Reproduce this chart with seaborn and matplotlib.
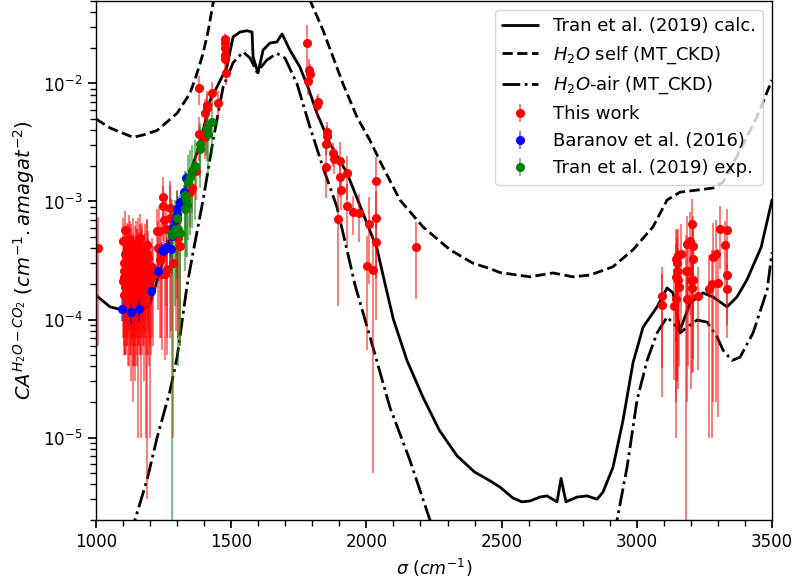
import numpy as np
import matplotlib
matplotlib.use("Agg")
import matplotlib.pyplot as plt
import seaborn as sns
from matplotlib.ticker import MultipleLocator

# Tran et al. (2019) calculated CA
calc_x = [1000, 1052, 1100, 1140, 1170, 1200, 1230, 1263, 1300, 1348, 1385, 1422, 1447, 1484,
          1507, 1533, 1558, 1577, 1581, 1599, 1618, 1643, 1669, 1688, 1717, 1754, 1784, 1817,
          1865, 1928, 1987, 2039, 2069, 2100, 2150, 2209, 2270, 2335, 2400, 2457, 2494, 2542,
          2575, 2605, 2642, 2668, 2705, 2720, 2738, 2779, 2816, 2853, 2875, 2912, 2949, 2986,
          3023, 3075, 3112, 3134, 3160, 3197, 3245, 3282, 3334, 3370, 3407, 3460, 3500]
calc_y = [1.6e-4, 1.28e-4, 1.2e-4, 1.16e-4, 1.18e-4, 1.35e-4, 2.3e-4, 4.0e-4, 7.5e-4, 1.75e-3,
          3.1e-3, 7.2e-3, 9.3e-3, 1.38e-2, 2.48e-2, 2.73e-2, 2.8e-2, 2.73e-2, 1.68e-2, 1.23e-2,
          1.92e-2, 2.2e-2, 2.25e-2, 2.63e-2, 1.92e-2, 1.38e-2, 9.3e-3, 5.6e-3, 3.1e-3, 1.75e-3,
          8e-4, 4.0e-4, 2.0e-4, 1.0e-4, 4.5e-5, 2.2e-5, 1.15e-5, 7.0e-6, 5.1e-6, 4.3e-6, 3.8e-6,
          3.07e-6, 2.85e-6, 2.9e-6, 3.13e-6, 3.2e-6, 2.85e-6, 4.5e-6, 2.85e-6, 3.13e-6, 3.2e-6,
          3.0e-6, 3.45e-6, 5.6e-6, 1.4e-5, 4.3e-5, 8.6e-5, 1.28e-4, 1.85e-4, 1.68e-4, 8.1e-5,
          1.38e-4, 1.68e-4, 1.55e-4, 1.28e-4, 1.55e-4, 2.16e-4, 4.1e-4, 1.03e-3]

# H2O self continuum (MT_CKD)
self_x = [1000, 1052, 1137, 1174, 1226, 1300, 1348, 1370, 1396, 1415, 1433, 1480, 1600, 1720,
          1791, 1839, 1913, 1965, 2013, 2061, 2124, 2209, 2309, 2394, 2457, 2494, 2605, 2690,
          2764, 2827, 2912, 2986, 3060, 3112, 3160, 3223, 3282, 3319, 3382, 3444, 3500]
self_y = [5.0e-3, 4.2e-3, 3.5e-3, 3.66e-3, 4.0e-3, 5.6e-3, 8.3e-3, 1.15e-2, 1.8e-2, 2.8e-2,
          4.8e-2, 8e-2, 1.2e-1, 8e-2, 5.1e-2, 2.85e-2, 1.0e-2, 5.2e-3, 3.3e-3, 1.96e-3, 1.03e-3,
          6.1e-4, 3.9e-4, 3.0e-4, 2.7e-4, 2.5e-4, 2.3e-4, 2.48e-4, 2.3e-4, 2.38e-4, 2.8e-4,
          3.9e-4, 6.1e-4, 1.03e-3, 1.2e-3, 1.25e-3, 1.3e-3, 1.46e-3, 2.7e-3, 5.2e-3, 1.07e-2]

# H2O-air continuum (MT_CKD)
air_x = [1120, 1144, 1189, 1226, 1274, 1300, 1337, 1359, 1396, 1433, 1470, 1507, 1544, 1570,
         1595, 1632, 1669, 1699, 1743, 1791, 1839, 1891, 1928, 1958, 2024, 2087, 2161, 2235,
         2260, 2900, 2927, 2964, 3001, 3038, 3075, 3112, 3149, 3160, 3186, 3223, 3260, 3297,
         3319, 3352, 3382, 3430, 3482, 3500]
air_y = [1.5e-6, 2e-6, 4.4e-6, 1.0e-5, 2.5e-5, 4.8e-5, 1.96e-4, 3.7e-4, 1.03e-3, 3.3e-3, 9.3e-3,
         1.5e-2, 1.85e-2, 1.64e-2, 1.25e-2, 1.58e-2, 1.8e-2, 1.64e-2, 1.0e-2, 4.3e-3, 1.96e-3,
         9e-4, 3.9e-4, 1.96e-4, 5.85e-5, 1.8e-5, 6.4e-6, 2e-6, 1.5e-6, 1.5e-6, 2e-6, 5.6e-6,
         2.08e-5, 4.5e-5, 7.7e-5, 1.05e-4, 8.6e-5, 7.7e-5, 8.6e-5, 9.9e-5, 9.5e-5, 7.1e-5,
         5.5e-5, 4.5e-5, 4.8e-5, 7.7e-5, 1.78e-4, 3.7e-4]

# This work
work_x = [1009,
          1100, 1102, 1104, 1105, 1107, 1108, 1110, 1112, 1113, 1115, 1117, 1118, 1120, 1122,
          1124, 1125, 1127, 1129, 1130, 1132, 1134, 1136, 1137, 1139, 1141, 1143, 1145, 1146,
          1148, 1150, 1152, 1154, 1156, 1158, 1160, 1162, 1164, 1166, 1168, 1170, 1172, 1175,
          1177, 1180, 1183, 1186, 1189, 1192, 1195, 1198, 1201, 1204, 1207, 1210,
          1101, 1103, 1106, 1109, 1111, 1114, 1116, 1119, 1121, 1123, 1126, 1128, 1131, 1133,
          1135, 1138, 1140, 1142, 1144, 1147, 1149, 1151, 1153, 1155, 1157, 1159, 1161, 1163,
          1165, 1167, 1169, 1171, 1174, 1178, 1182, 1185, 1188, 1191, 1194, 1197,
          1224, 1230, 1234, 1237, 1240, 1243, 1246, 1247, 1251, 1255, 1259, 1261, 1264, 1274,
          1275, 1277, 1284, 1296, 1301, 1304, 1311, 1348, 1354, 1370, 1381, 1381, 1403, 1403,
          1407, 1409, 1409, 1428, 1450, 1477, 1478, 1477, 1476, 1477, 1481,
          1779, 1789, 1790, 1785, 1816, 1822, 1853, 1855, 1851, 1851, 1878, 1880, 1902, 1902,
          1905, 1896, 1930, 1930, 1952, 1974, 2011, 2001, 2026, 2036, 2036, 2036, 2183,
          3094, 3095, 3139, 3145, 3147, 3146, 3150, 3153, 3153, 3157, 3146, 3162, 3184, 3187,
          3182, 3197, 3203, 3206, 3209, 3201, 3208, 3203, 3190, 3228, 3268, 3277, 3283, 3293,
          3299, 3308, 3326, 3335, 3335, 3335]
work_y = [4.0e-4,
          2.1e-4, 3.0e-4, 1.6e-4, 2.6e-4, 5.7e-4, 2.2e-4, 3.4e-4, 1.8e-4, 2.9e-4, 2.4e-4,
          3.8e-4, 1.5e-4, 2.7e-4, 3.2e-4, 2.0e-4, 4.1e-4, 2.5e-4, 1.9e-4, 3.5e-4, 2.3e-4,
          2.8e-4, 1.7e-4, 3.1e-4, 2.6e-4, 2.0e-4, 3.6e-4, 2.4e-4, 1.8e-4, 2.9e-4, 3.3e-4,
          2.2e-4, 2.7e-4, 1.6e-4, 3.0e-4, 2.5e-4, 3.8e-4, 2.1e-4, 2.8e-4, 1.9e-4, 3.4e-4,
          2.4e-4, 2.9e-4, 2.0e-4, 3.1e-4, 2.6e-4, 1.8e-4, 3.5e-4, 2.3e-4, 2.7e-4, 1.9e-4,
          2.5e-4, 2.2e-4, 2.8e-4, 2.4e-4,
          4.6e-4, 2.3e-4, 3.6e-4, 1.9e-4, 2.8e-4, 4.0e-4, 2.2e-4, 3.3e-4, 1.7e-4, 4.8e-4,
          2.9e-4, 2.1e-4, 3.9e-4, 2.6e-4, 1.8e-4, 4.4e-4, 3.0e-4, 2.3e-4, 1.6e-4, 4.2e-4,
          2.7e-4, 3.5e-4, 1.9e-4, 4.5e-4, 2.4e-4, 3.2e-4, 2.0e-4, 4.9e-4, 2.6e-4, 3.7e-4,
          2.2e-4, 4.0e-4, 3.0e-4, 2.5e-4, 3.9e-4, 2.1e-4, 4.3e-4, 2.8e-4, 3.3e-4, 2.0e-4,
          5.6e-4, 4.0e-4, 5.6e-4, 3.2e-4, 3.6e-4, 2.45e-4, 1.1e-3, 9.1e-4, 7.0e-4, 2.45e-4,
          5.8e-4, 2.7e-4, 4.0e-4, 8.8e-4, 7.2e-4, 5.8e-4, 3.0e-4, 5.4e-4, 7.0e-4, 4.9e-4,
          4.2e-4, 1.21e-3, 1.3e-3, 1.82e-3, 3.7e-3, 9.1e-3, 3.5e-3, 5.6e-3, 3.8e-3, 6.6e-3,
          6.2e-3, 8.3e-3, 6.8e-3, 2.4e-2, 2.2e-2, 1.98e-2, 1.75e-2, 1.6e-2, 1.22e-2,
          2.2e-2, 1.3e-2, 1.2e-2, 1.05e-2, 6.6e-3, 7.0e-3, 3.9e-3, 3.6e-3, 3.07e-3, 1.97e-3,
          2.56e-3, 2.3e-3, 2.2e-3, 1.6e-3, 1.24e-3, 7.1e-4, 1.73e-3, 9.2e-4, 8.2e-4, 8.0e-4,
          6.5e-4, 2.85e-4, 2.65e-4, 1.5e-3, 7.2e-4, 4.5e-4, 4.1e-4,
          1.59e-4, 1.32e-4, 1.31e-4, 3.26e-4, 2.6e-4, 2.3e-4, 3.0e-4, 3.5e-4, 2.16e-4, 1.9e-4,
          1.5e-4, 3.6e-4, 4.35e-4, 1.5e-4, 2.6e-4, 4.6e-4, 6.4e-4, 4.2e-4, 3.26e-4, 2.16e-4,
          2.16e-4, 1.85e-4, 2.6e-4, 1.57e-4, 1.8e-4, 2.0e-4, 3.4e-4, 3.6e-4, 2.05e-4, 5.9e-4,
          4.3e-4, 5.7e-4, 2.4e-4, 1.8e-4]
work_err = [3.4e-4,
            1.4e-4, 2.1e-4, 1.1e-4, 1.9e-4, 2.6e-4, 1.7e-4, 2.5e-4, 1.3e-4, 2.2e-4, 1.8e-4,
            2.7e-4, 1.1e-4, 2.0e-4, 2.4e-4, 1.5e-4, 2.8e-4, 1.9e-4, 1.6e-4, 2.5e-4, 1.7e-4,
            2.1e-4, 1.5e-4, 2.3e-4, 2.0e-4, 1.6e-4, 2.6e-4, 1.8e-4, 1.4e-4, 2.2e-4, 2.5e-4,
            1.7e-4, 2.0e-4, 1.5e-4, 2.2e-4, 1.9e-4, 2.7e-4, 1.6e-4, 2.1e-4, 1.8e-4, 2.4e-4,
            1.8e-4, 2.2e-4, 1.7e-4, 2.3e-4, 1.9e-4, 1.7e-4, 3.47e-4, 1.8e-4, 2.0e-4, 1.8e-4,
            1.9e-4, 1.7e-4, 2.1e-4, 1.8e-4,
            2.6e-4, 1.7e-4, 2.4e-4, 1.4e-4, 2.0e-4, 2.6e-4, 1.6e-4, 2.3e-4, 1.3e-4, 2.9e-4,
            2.1e-4, 1.6e-4, 2.6e-4, 1.9e-4, 1.4e-4, 2.8e-4, 2.1e-4, 1.7e-4, 1.3e-4, 2.7e-4,
            2.0e-4, 2.4e-4, 1.5e-4, 2.8e-4, 1.8e-4, 2.3e-4, 1.5e-4, 3.0e-4, 1.9e-4, 2.5e-4,
            1.7e-4, 2.6e-4, 2.2e-4, 1.9e-4, 2.6e-4, 1.6e-4, 2.8e-4, 2.0e-4, 2.3e-4, 1.6e-4,
            3.0e-4, 2.8e-4, 3.5e-4, 2.5e-4, 2.9e-4, 1.9e-4, 5.0e-4, 4.5e-4, 4.0e-4, 2.0e-4,
            4.5e-4, 2.2e-4, 3.3e-4, 6.0e-4, 6.5e-4, 5.0e-4, 2.9e-4, 4.6e-4, 5.5e-4, 4.2e-4,
            3.6e-4, 6.0e-4, 5.0e-4, 8.0e-4, 1.5e-3, 2.5e-3, 1.2e-3, 1.8e-3, 1.3e-3, 2.0e-3,
            2.0e-3, 2.0e-3, 1.8e-3, 3.0e-3, 3.0e-3, 3.0e-3, 3.0e-3, 2.5e-3, 2.5e-3,
            9.0e-3, 3.0e-3, 2.5e-3, 2.5e-3, 1.2e-3, 1.2e-3, 8.0e-4, 8.0e-4, 6.0e-4, 9.0e-4,
            6.0e-4, 6.0e-4, 1.0e-3, 5.0e-4, 4.0e-4, 5.8e-4, 7.0e-4, 5.0e-4, 3.0e-4, 3.5e-4,
            4.5e-4, 2.3e-4, 2.6e-4, 9.0e-4, 5.0e-4, 3.5e-4, 2.6e-4,
            1.2e-4, 1.1e-4, 1.0e-4, 2.6e-4, 2.3e-4, 2.1e-4, 2.7e-4, 2.4e-4, 1.9e-4, 1.5e-4,
            1.4e-4, 2.8e-4, 3.2e-4, 1.3e-4, 2.595e-4, 3.5e-4, 4.0e-4, 3.3e-4, 2.8e-4, 1.9e-4,
            1.8e-4, 1.5e-4, 2.2e-4, 1.2e-4, 1.7e-4, 1.9e-4, 3.2e-4, 3.4e-4, 1.9e-4, 3.2e-4,
            2.5e-4, 3.0e-4, 1.5e-4, 1.1e-4]

# Baranov et al. (2016)
bar_x = [1095, 1128, 1159, 1202, 1230, 1243, 1249, 1263, 1277, 1280, 1283, 1292, 1298, 1301,
         1311, 1327, 1331]
bar_y = [1.23e-4, 1.15e-4, 1.23e-4, 1.75e-4, 2.58e-4, 3.9e-4, 3.8e-4, 4.1e-4, 3.95e-4, 5.1e-4,
         6.0e-4, 7.0e-4, 7.8e-4, 8.6e-4, 9.9e-4, 1.2e-3, 1.57e-3]
bar_err = [2.5e-5, 2.4e-5, 2.5e-5, 3.0e-5, 4.0e-5, 6.0e-5, 6.0e-5, 6.0e-5, 6.0e-5, 8.0e-5,
           9.0e-5, 1.0e-4, 1.1e-4, 1.2e-4, 1.4e-4, 1.7e-4, 2.2e-4]

# Tran et al. (2019) experimental
exp_x = [1280, 1281, 1292, 1301, 1304, 1311, 1329, 1329, 1331, 1335, 1341, 1348, 1354, 1366,
         1385, 1386, 1409, 1415, 1428]
exp_y = [5.2e-4, 5.4e-4, 5.8e-4, 7.2e-4, 5.8e-4, 5.4e-4, 1.13e-3, 8.6e-4, 1.04e-3, 9.4e-4,
         1.47e-3, 1.62e-3, 1.8e-3, 2.0e-3, 3.1e-3, 2.8e-3, 4.2e-3, 3.7e-3, 4.7e-3]
exp_err = [5.19e-4, 3.0e-4, 4.5e-4, 5.0e-4, 5.4e-4, 4.8e-4, 7.0e-4, 6.0e-4, 7.0e-4, 6.0e-4,
           1.0e-3, 1.1e-3, 1.2e-3, 1.3e-3, 1.5e-3, 1.5e-3, 2.0e-3, 2.0e-3, 2.2e-3]

sns.set_theme(style="ticks", rc={"axes.edgecolor": "black", "xtick.color": "black",
                                 "ytick.color": "black", "axes.labelcolor": "black",
                                 "text.color": "black", "axes.linewidth": 1.0})
plt.rcParams['font.family'] = ['DejaVu Sans']

fig = plt.figure(figsize=(7.97, 5.86), dpi=100)
ax = fig.add_axes([96 / 797, 66 / 586, 676 / 797, 519 / 586])

sns.lineplot(x=calc_x, y=calc_y, color='black', lw=2, label='Tran et al. (2019) calc.', ax=ax)
sns.lineplot(x=self_x, y=self_y, color='black', lw=2, linestyle='--',
             label=r'$H_2O$ self (MT_CKD)', ax=ax)
sns.lineplot(x=air_x, y=air_y, color='black', lw=2, linestyle='-.',
             label=r'$H_2O$-air (MT_CKD)', ax=ax)

ax.errorbar(work_x, work_y, yerr=work_err, fmt='o', color='red', ecolor=(1, 0, 0, 0.6),
            markersize=5.5, elinewidth=1.2, label='This work')
ax.errorbar(bar_x, bar_y, yerr=bar_err, fmt='o', color='blue', ecolor=(0, 0, 1, 0.6),
            markersize=5.5, elinewidth=1.2, label='Baranov et al. (2016)')
ax.errorbar(exp_x, exp_y, yerr=exp_err, fmt='o', color='green', ecolor=(0, 0.5, 0, 0.6),
            markersize=5.5, elinewidth=1.2, label='Tran et al. (2019) exp.')

ax.set_yscale('log')
ax.set_xlim(1000, 3500)
ax.set_ylim(2e-6, 5e-2)
ax.xaxis.set_minor_locator(MultipleLocator(100))
ax.tick_params(labelsize=12)
ax.set_xlabel(r'$\sigma$ $(cm^{-1})$', fontsize=12.5)
ax.set_ylabel(r'$CA^{H_2O-CO_2}$ $(cm^{-1}.amagat^{-2})$', fontsize=14)
ax.legend(loc='upper right', fontsize=13)

fig.savefig('out.png', dpi=100)
